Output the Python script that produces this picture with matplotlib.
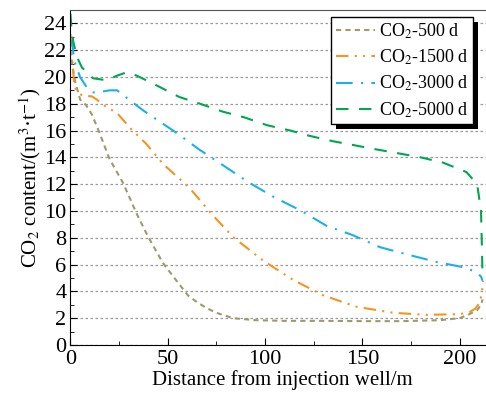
import matplotlib
matplotlib.use("Agg")
import matplotlib.pyplot as plt
from matplotlib.patches import Rectangle
from matplotlib.ticker import MultipleLocator

plt.rcParams['font.family'] = ['Liberation Serif', 'DejaVu Serif']
plt.rcParams['mathtext.fontset'] = 'stix'

# CO2-500 d
x500 = [0, 1, 2.5, 5, 8, 11, 15, 20, 27, 34, 40, 47.6, 55, 60.4, 65, 70, 75, 83.6,
        95, 110, 130, 150, 170, 190, 200, 205, 209, 211, 211.8]
y500 = [22.0, 20.8, 19.6, 18.3, 17.9, 17.2, 15.8, 13.9, 12.1, 9.8, 8.05, 6.1, 4.7, 3.7,
        3.2, 2.75, 2.4, 2.0, 1.85, 1.8, 1.8, 1.78, 1.78, 1.85, 2.0, 2.3, 2.6, 3.0, 3.4]

# CO2-1500 d
x1500 = [0, 0.8, 2, 4, 6.4, 11, 13.6, 18, 24, 30.6, 39, 47.6, 61, 73, 83.6, 99, 114.5,
         130, 147, 166, 183, 200, 205, 208, 210.5, 211.5, 212]
y1500 = [23.2, 21.5, 19.3, 18.8, 18.6, 18.55, 18.3, 17.8, 17.3, 16.2, 15.0, 13.5, 11.75,
         9.7, 8.05, 6.3, 4.85, 3.7, 2.85, 2.4, 2.25, 2.3, 2.45, 2.7, 3.2, 4.0, 4.8]

# CO2-3000 d
x3000 = [0, 0.7, 2, 4.9, 8.5, 11.6, 16, 20, 24, 30.6, 37.4, 44.5, 54.8, 66, 78.5, 92,
         105, 118, 131.5, 145, 159, 174.5, 188, 202, 208.5, 211, 211.8]
y3000 = [22.5, 22.7, 21.2, 20.0, 19.2, 18.85, 18.9, 19.0, 19.0, 18.25, 17.5, 16.8, 15.8,
         14.6, 13.4, 12.1, 11.0, 10.06, 8.9, 8.2, 7.3, 6.7, 6.2, 5.8, 5.45, 5.1, 4.8]

# CO2-5000 d
x5000 = [0, 0.5, 1.5, 3.3, 5.9, 11.6, 18.8, 24, 29, 34, 42.5, 56, 66.6, 78.5, 89, 101,
         113, 123, 135, 157, 180, 191.6, 203.5, 209, 211, 211.5, 211.8]
y5000 = [24.7, 23.5, 22.6, 21.5, 20.7, 19.9, 19.75, 20.1, 20.35, 20.1, 19.5, 18.5, 18.0,
         17.4, 17.0, 16.4, 16.0, 15.6, 15.2, 14.6, 14.0, 13.6, 12.9, 12.0, 10.0, 7.0, 5.0]

fig = plt.figure(figsize=(4.86, 3.97), dpi=100)
ax = fig.add_axes([0.145, 0.131, 0.87, 0.844])

ax.plot(x500, y500, color='#9c9b6c', lw=1.5, ls=(0, (2.5, 2)), label='CO$_2$-500 d')
ax.plot(x1500, y1500, color='#f7931e', lw=1.5, ls=(0, (6, 3, 1, 3, 1, 3)), label='CO$_2$-1500 d')
ax.plot(x3000, y3000, color='#1cb0ea', lw=1.5, ls=(0, (8, 4, 1, 4)), label='CO$_2$-3000 d')
ax.plot(x5000, y5000, color='#00a651', lw=1.5, ls=(0, (6, 5)), label='CO$_2$-5000 d')

ax.set_xlim(0, 217.3)
ax.set_ylim(0, 25)
ax.xaxis.set_major_locator(MultipleLocator(50))
ax.xaxis.set_minor_locator(MultipleLocator(25))
ax.yaxis.set_major_locator(MultipleLocator(2))
ax.yaxis.set_minor_locator(MultipleLocator(1))
ax.tick_params(which='both', direction='in', labelsize=16)
ax.tick_params(which='major', length=5)
ax.tick_params(which='minor', length=3)
ax.tick_params(axis='y', pad=3)
ax.yaxis.grid(True, color='#999999', ls=(0, (2, 2)), lw=0.9)
ax.spines['right'].set_visible(False)
ax.spines['top'].set_color('#555555')

ax.set_xlabel('Distance from injection well/m', fontsize=15, labelpad=1)
ax.set_ylabel('CO$_2$ content/(m$^3$·t$^{-1}$)', fontsize=15, labelpad=1)

leg = ax.legend(loc='upper right', bbox_to_anchor=(0.952, 0.979), fontsize=13,
                frameon=True, fancybox=False, handlelength=2.2, handletextpad=0.2,
                borderpad=0.25, labelspacing=0.38, borderaxespad=0)
leg.get_frame().set_edgecolor('black')
leg.get_frame().set_linewidth(1.0)
leg.get_frame().set_alpha(1)

# hard black drop shadow behind the legend box
fig.canvas.draw()
bb = leg.get_window_extent()
shadow = Rectangle((bb.x0 + 5, bb.y0 - 5), bb.width, bb.height, transform=None,
                   facecolor='black', edgecolor='none', zorder=4.9)
ax.add_artist(shadow)

fig.savefig('out.png', dpi=100)
